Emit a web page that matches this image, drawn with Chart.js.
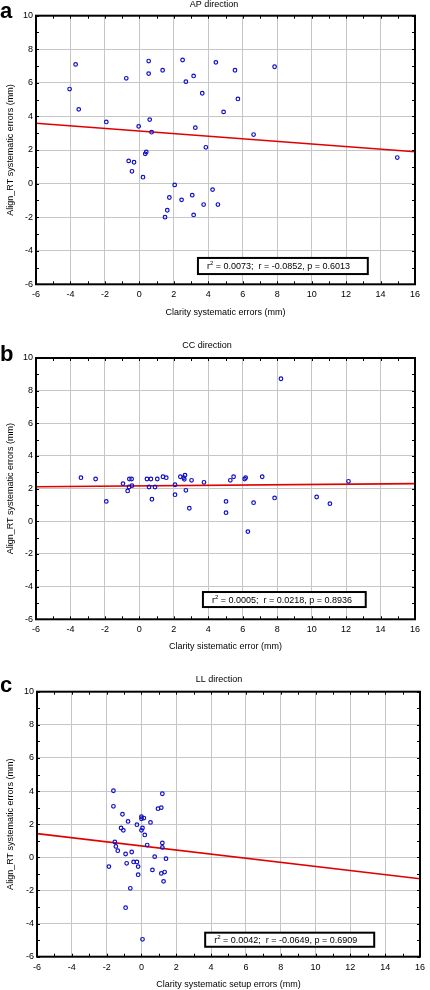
<!DOCTYPE html>
<html>
<head>
<meta charset="utf-8">
<script src="https://cdn.jsdelivr.net/npm/chart.js@4.4.1/dist/chart.umd.min.js"></script>
<style>
  body { margin: 0; background: #fff; width: 430px; height: 990px; overflow: hidden; position: relative; }
  canvas { position: absolute; left: 0; }
</style>
</head>
<body>
<canvas id="apChart" width="430" height="330" style="top:0px"></canvas>
<canvas id="ccChart" width="430" height="330" style="top:330px"></canvas>
<canvas id="llChart" width="430" height="330" style="top:660px"></canvas>
<script>
// axis ticks (mm)
var xTickValues = [-6, -4, -2, 0, 2, 4, 6, 8, 10, 12, 14, 16];
var yTickValues = [-6, -4, -2, 0, 2, 4, 6, 8, 10];

// regression line ends, read at x = -6 and x = 16
var fitX = [-6, 16];

// a: AP direction
var apX = [-4.05, -3.70, -3.52, -1.92, -0.76, -0.62, -0.31, -0.43, -0.04, 0.21,
  0.54, 0.54, 0.60, 0.71, 0.34, 0.40, 1.35, 2.51, 2.70, 3.15,
  3.25, 3.65, 3.86, 4.44, 4.89, 5.55, 5.72, 6.63, 7.85, 14.97,
  2.05, 1.74, 2.45, 3.07, 4.25, 1.62, 1.49, 3.15, 3.73, 4.56];
var apY = [5.63, 7.10, 4.42, 3.67, 6.27, 1.35, 1.27, 0.73, 3.41, 0.38,
  7.30, 6.55, 3.81, 3.06, 1.77, 1.88, 6.75, 7.36, 6.07, 6.41,
  3.33, 5.38, 2.16, 7.22, 4.27, 6.75, 5.04, 2.92, 6.96, 1.55,
  -0.08, -0.83, -0.97, -0.69, -0.36, -1.59, -2.00, -1.87, -1.25, -1.25];
var apFit = [3.59, 1.90];

// b: CC direction
var ccX = [-3.39, -2.54, -1.92, -0.95, -0.68, -0.58, -0.45, -0.60, -0.43, 0.44,
  0.56, 0.67, 0.73, 0.91, 1.04, 1.37, 1.56, 2.38, 2.57, 2.65,
  2.61, 2.07, 2.07, 2.70, 2.90, 3.03, 3.75, 5.03, 5.03, 5.28,
  5.47, 6.11, 6.17, 6.30, 6.63, 7.13, 7.85, 8.22, 10.29, 11.06, 12.14];
var ccY = [2.67, 2.59, 1.22, 2.31, 1.86, 2.59, 2.59, 2.10, 2.18, 2.59,
  2.10, 2.59, 1.35, 2.10, 2.59, 2.73, 2.67, 2.73, 2.67, 2.82,
  2.57, 2.24, 1.63, 1.90, 0.80, 2.51, 2.39, 1.22, 0.53, 2.51,
  2.73, 2.59, 2.67, -0.63, 1.14, 2.73, 1.43, 8.73, 1.49, 1.08, 2.45];
var ccFit = [2.12, 2.31];

// c: LL direction
var llX = [-1.61, -1.61, -1.09, -0.77, -1.17, -1.04, -1.53, -1.47, -1.36, -0.91,
  -0.56, -1.87, -0.85, -0.45, -0.26, -0.19, -0.19, -0.64, -0.91, 0.06,
  -0.26, 0.00, 0.00, 0.14, 0.52, 0.06, 0.00, 0.19, 0.33, 0.76,
  0.63, 0.95, 1.14, 1.20, 1.20, 1.20, 1.41, 1.14, 1.33, 1.27];
var llY = [4.02, 3.08, 2.60, 2.17, 1.77, 1.63, 0.93, 0.66, 0.40, 0.20,
  0.32, -0.56, -0.36, -0.28, -0.28, -0.56, -1.05, -1.87, -3.04, -4.95,
  1.97, 2.45, 2.33, 2.37, 2.11, 1.77, 1.63, 1.35, 0.74, 0.04,
  -0.76, 2.94, 3.00, 3.84, 0.87, 0.60, -0.08, -0.97, -0.89, -1.45];
var llFit = [1.43, -1.29];

var fontFamily = "'Liberation Sans', Arial, Helvetica, sans-serif";
var gridColor = "#c6c6c6";

// frame, minor ticks, panel letter, title and the stats box
var panelPlugin = {
  id: "panel",
  afterDraw: function (chart, args, opts) {
    var ctx = chart.ctx;
    var a = chart.chartArea;
    var xs = chart.scales.x;
    var ys = chart.scales.y;
    var v, p;
    ctx.save();
    ctx.strokeStyle = "#000";
    ctx.lineWidth = 1;
    ctx.beginPath();
    for (v = xs.min; v <= xs.max; v++) {
      p = Math.round(xs.getPixelForValue(v)) + 0.5;
      ctx.moveTo(p, a.top); ctx.lineTo(p, a.top + 3);
      ctx.moveTo(p, a.bottom); ctx.lineTo(p, a.bottom - 3);
    }
    for (v = ys.min; v <= ys.max; v++) {
      p = Math.round(ys.getPixelForValue(v)) + 0.5;
      ctx.moveTo(a.left, p); ctx.lineTo(a.left + 3, p);
      ctx.moveTo(a.right, p); ctx.lineTo(a.right - 3, p);
    }
    ctx.stroke();
    ctx.lineWidth = 2;
    ctx.strokeRect(a.left, a.top, a.right - a.left, a.bottom - a.top);

    ctx.fillStyle = "#000";
    ctx.font = "9px " + fontFamily;
    ctx.textAlign = "center";
    ctx.textBaseline = "middle";
    ctx.fillText(opts.title, opts.titleX, opts.titleY);

    ctx.font = "bold 22px " + fontFamily;
    ctx.textAlign = "left";
    ctx.textBaseline = "alphabetic";
    ctx.fillText(opts.letter, 0, opts.letterY);

    var l = xs.getPixelForValue(opts.box[0]);
    var r = xs.getPixelForValue(opts.box[1]);
    var t = ys.getPixelForValue(opts.box[2]);
    var b = ys.getPixelForValue(opts.box[3]);
    ctx.fillStyle = "#fff";
    ctx.fillRect(l, t, r - l, b - t);
    ctx.lineWidth = 2;
    ctx.strokeRect(l, t, r - l, b - t);

    var ty = (t + b) / 2 + 3;
    var tx = l + 9;
    ctx.fillStyle = "#000";
    ctx.font = "9px " + fontFamily;
    ctx.fillText("r", tx, ty);
    tx += ctx.measureText("r").width;
    ctx.font = "6px " + fontFamily;
    ctx.fillText("2", tx, ty - 4);
    tx += ctx.measureText("2").width;
    ctx.font = "9px " + fontFamily;
    ctx.fillText(opts.note, tx, ty);
    ctx.restore();
  }
};

function makeChart(id, xs, ys, fit, cfg) {
  var points = xs.map(function (x, i) { return { x: x, y: ys[i] }; });
  var line = fitX.map(function (x, i) { return { x: x, y: fit[i] }; });
  return new Chart(document.getElementById(id), {
    type: "scatter",
    data: {
      datasets: [
        {
          data: points,
          pointRadius: 1.8,
          pointBorderWidth: 1.2,
          pointBorderColor: "#1010c8",
          pointBackgroundColor: "rgba(255,255,255,0)"
        },
        {
          data: line,
          showLine: true,
          borderColor: "#e00000",
          borderWidth: 1.6,
          pointRadius: 0
        }
      ]
    },
    options: {
      responsive: false,
      animation: false,
      devicePixelRatio: 1,
      layout: { padding: { left: 0, right: cfg.padRight, top: cfg.padTop, bottom: 0 } },
      scales: {
        x: {
          type: "linear",
          min: -6,
          max: 16,
          afterBuildTicks: function (axis) {
            axis.ticks = xTickValues.map(function (v) { return { value: v }; });
          },
          afterFit: function (axis) { axis.height = cfg.xAxisHeight; },
          grid: { color: gridColor, drawTicks: false },
          border: { display: false },
          ticks: { color: "#000", font: { size: 9, family: fontFamily }, padding: 5, maxRotation: 0, autoSkip: false },
          title: {
            display: true,
            text: cfg.xTitle,
            color: "#000",
            font: { size: 9, family: fontFamily },
            padding: { top: 0, bottom: cfg.xTitlePad }
          }
        },
        y: {
          type: "linear",
          min: -6,
          max: 10,
          afterBuildTicks: function (axis) {
            axis.ticks = yTickValues.map(function (v) { return { value: v }; });
          },
          afterFit: function (axis) { axis.width = cfg.yAxisWidth; },
          grid: { color: gridColor, drawTicks: false },
          border: { display: false },
          ticks: { color: "#000", font: { size: 9, family: fontFamily }, padding: 3, autoSkip: false },
          title: {
            display: true,
            text: "Align_RT systematic errors (mm)",
            color: "#000",
            font: { size: 9, family: fontFamily },
            padding: { top: 5.6, bottom: 0 }
          }
        }
      },
      plugins: {
        legend: { display: false },
        tooltip: { enabled: false },
        panel: cfg
      }
    },
    plugins: [panelPlugin]
  });
}

makeChart("apChart", apX, apY, apFit, {
  padTop: 15.7, padRight: 15, yAxisWidth: 36, xAxisHeight: 45.7, xTitlePad: 11.9,
  xTitle: "Clarity systematic errors (mm)",
  title: "AP direction", titleX: 214, titleY: 4.5,
  letter: "a", letterY: 18,
  box: [3.40, 13.26, -4.43, -5.39],
  note: " = 0.0073;  r = -0.0852, p = 0.6013"
});

makeChart("ccChart", ccX, ccY, ccFit, {
  padTop: 28, padRight: 15, yAxisWidth: 36, xAxisHeight: 40.7, xTitlePad: 7.9,
  xTitle: "Clarity sistematic error (mm)",
  title: "CC direction", titleX: 207, titleY: 16,
  letter: "b", letterY: 31,
  box: [3.69, 13.14, -4.33, -5.25],
  note: " = 0.0005;  r = 0.0218, p = 0.8936"
});

makeChart("llChart", llX, llY, llFit, {
  padTop: 31.7, padRight: 5.7, yAxisWidth: 37, xAxisHeight: 33.3, xTitlePad: 0.3,
  xTitle: "Clarity systematic setup errors (mm)",
  title: "LL direction", titleX: 219, titleY: 19.3,
  letter: "c", letterY: 32,
  box: [3.66, 13.37, -4.55, -5.40],
  note: " = 0.0042;  r = -0.0649, p = 0.6909"
});
</script>
</body>
</html>
